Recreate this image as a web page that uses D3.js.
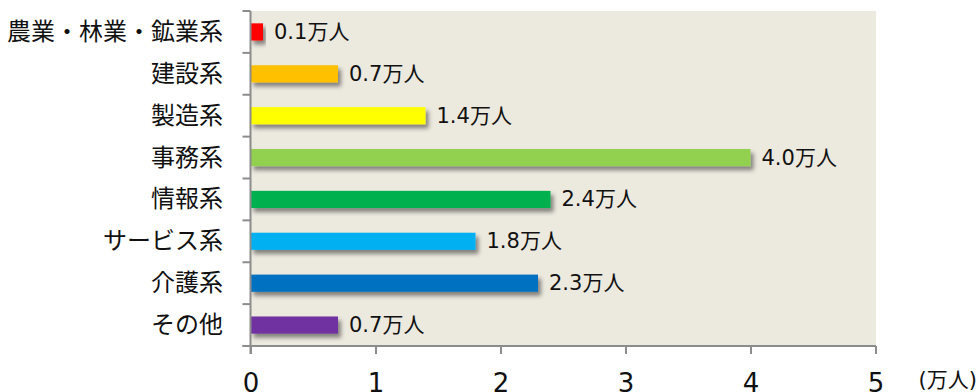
<!DOCTYPE html>
<html><head><meta charset="utf-8">
<script src="https://cdn.jsdelivr.net/npm/d3@7"></script>
<style>
html,body{margin:0;padding:0;background:#fff;}
svg{display:block;}
text{font-family:"DejaVu Sans","Noto Sans CJK JP",sans-serif;fill:#111;}
</style></head>
<body>
<svg id="chart" width="977" height="392"></svg>
<script>
const categories = ["農業・林業・鉱業系","建設系","製造系","事務系","情報系","サービス系","介護系","その他"];
const values = [0.1, 0.7, 1.4, 4.0, 2.4, 1.8, 2.3, 0.7];
const colors = ["#FF0000","#FFC000","#FFFF00","#92D050","#00B050","#00B0F0","#0070C0","#7030A0"];
const xTicks = [0,1,2,3,4,5];
const unitSuffix = "万人";
const axisUnit = "(万人)";

const svg = d3.select("#chart");
const L = 250.5, R = 875.5, T = 11, B = 346;

const x = d3.scaleLinear().domain([0,5]).range([L,R]);
const y = d3.scaleBand().domain(categories).range([T,B]).paddingInner(0.59).paddingOuter(0.295);

const defs = svg.append("defs");
const f = defs.append("filter").attr("id","sh").attr("x","-10%").attr("y","-50%").attr("width","130%").attr("height","250%");
f.append("feDropShadow").attr("dx",3).attr("dy",4).attr("stdDeviation",2.2).attr("flood-color","#000").attr("flood-opacity",0.45);

svg.append("rect").attr("x",L).attr("y",T).attr("width",R-L+0.5).attr("height",B-T).attr("fill","#ECE9DF");

svg.append("g").selectAll("rect").data(categories).join("rect")
  .attr("x",x(0)).attr("y",d=>y(d))
  .attr("width",(d,i)=>x(values[i])-x(0)).attr("height",y.bandwidth())
  .attr("fill",(d,i)=>colors[i]).attr("filter","url(#sh)");

svg.append("g").selectAll("text").data(categories).join("text")
  .attr("x",(d,i)=>x(values[i])+11).attr("y",d=>y(d)+y.bandwidth()/2)
  .attr("dominant-baseline","central").attr("font-size",21)
  .text((d,i)=>values[i].toFixed(1)+unitSuffix);

// y axis
const ya = svg.append("g");
ya.append("line").attr("x1",L).attr("x2",L).attr("y1",T).attr("y2",B+8).attr("stroke","#8c8c8c").attr("stroke-width",2);
const step = y.step();
const bounds = d3.range(categories.length+1).map(i=>T+i*step);
ya.selectAll("line.t").data(bounds).join("line").attr("class","t")
  .attr("x1",L-8).attr("x2",L).attr("y1",d=>d).attr("y2",d=>d).attr("stroke","#8c8c8c").attr("stroke-width",2);
ya.selectAll("text").data(categories).join("text")
  .attr("x",223).attr("y",d=>y(d)+y.bandwidth()/2)
  .attr("text-anchor","end").attr("dominant-baseline","central")
  .attr("font-size",24).attr("font-family","Noto Sans CJK JP")
  .text(d=>d);

// x axis
const xa = svg.append("g").attr("transform",`translate(0,${B})`)
  .call(d3.axisBottom(x).tickValues(xTicks).tickSize(8).tickSizeOuter(0).tickFormat(d3.format("d")));
xa.select(".domain").attr("stroke","#8c8c8c").attr("stroke-width",2).attr("d",`M${L-8},0H${R+0.5}`);
xa.selectAll(".tick line").attr("stroke","#8c8c8c").attr("stroke-width",2);
xa.selectAll(".tick text").attr("y",46).attr("dy",null).attr("font-size",26).attr("fill","#111")
  .attr("font-family","DejaVu Sans");

svg.append("text").attr("x",977).attr("y",387).attr("text-anchor","end").attr("font-size",21).text(axisUnit);
</script>
</body></html>
